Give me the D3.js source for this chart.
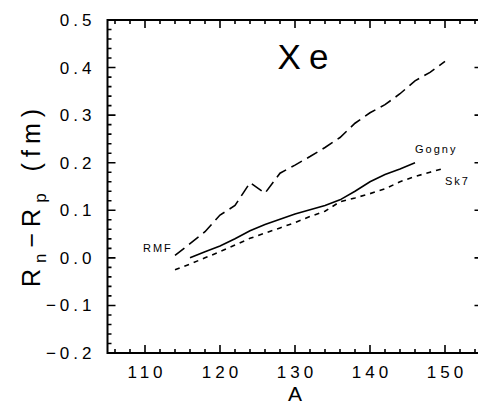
<!DOCTYPE html>
<html><head><meta charset="utf-8">
<script src="https://cdn.jsdelivr.net/npm/d3@7"></script>
<style>body{margin:0;background:#fff}svg{display:block}</style>
</head><body>
<svg id="c" width="478" height="405"></svg>
<script>
const rmfA = [114,116,118,120,122,124,126,128,130,132,134,136,138,140,142,144,146,148,150];
const rmfV = [0.005,0.030,0.055,0.090,0.110,0.158,0.136,0.178,0.195,0.213,0.232,0.253,0.283,0.305,0.322,0.345,0.372,0.390,0.413];
const gognyA = [116,118,120,122,124,126,128,130,132,134,136,138,140,142,144,146];
const gognyV = [0.000,0.013,0.025,0.040,0.057,0.070,0.081,0.092,0.101,0.110,0.122,0.140,0.160,0.175,0.187,0.200];
const sk7A = [114,116,118,120,122,124,126,128,130,132,134,136,138,140,142,144,146,148,150];
const sk7V = [-0.025,-0.013,0.000,0.013,0.027,0.041,0.052,0.063,0.074,0.087,0.098,0.118,0.126,0.135,0.145,0.160,0.171,0.180,0.189];
const xTicks = [110,120,130,140,150];
const yTicks = [-0.2,-0.1,0.0,0.1,0.2,0.3,0.4,0.5];

const svg = d3.select("#c");
const L = 107.5, R = 482.5, T = 20, B = 353;
const x = d3.scaleLinear().domain([105,155]).range([L,R]);
const y = d3.scaleLinear().domain([-0.2,0.5]).range([B,T]);
const font = "'Liberation Sans', Arial, sans-serif";

const minorX = d3.range(106,155,2);
const minorY = d3.range(0,36).map(i=>+(-0.2+i*0.02).toFixed(2));
const isMajX = v => Math.abs(v%10)<1e-6;
const isMajY = v => Math.abs(Math.round(v*10)-v*10)<1e-6;

// frame
svg.append("path").attr("d",`M${L},${T}H${R}V${B}H${L}Z`)
  .attr("fill","none").attr("stroke","#000").attr("stroke-width",2);

// ticks (inward on all four sides)
const tp = d3.path();
minorX.forEach(v=>{
  const len = isMajX(v)?8:4;
  tp.moveTo(x(v),B); tp.lineTo(x(v),B-len);
  tp.moveTo(x(v),T); tp.lineTo(x(v),T+len);
});
minorY.forEach(v=>{
  const len = isMajY(v)?8:4;
  tp.moveTo(L,y(v)); tp.lineTo(L+len,y(v));
  tp.moveTo(R,y(v)); tp.lineTo(R-len,y(v));
});
svg.append("path").attr("d",tp.toString()).attr("fill","none").attr("stroke","#000").attr("stroke-width",1.6);

// tick labels
svg.append("g").selectAll("text").data(xTicks).join("text")
  .attr("x",d=>x(d)+2).attr("y",B+25).attr("text-anchor","middle")
  .attr("font-family",font).attr("font-size",17).attr("letter-spacing",4)
  .text(d=>d);
svg.append("g").selectAll("text").data(yTicks).join("text")
  .attr("x",L-12).attr("y",d=>y(d)+6).attr("text-anchor","end")
  .attr("font-family",font).attr("font-size",17).attr("letter-spacing",4)
  .text(d=>d.toFixed(1).replace("-","\u2212"));

// axis titles
svg.append("text").attr("x",x(130)).attr("y",401).attr("text-anchor","middle")
  .attr("font-family",font).attr("font-size",21).text("A");
const yt = svg.append("text").attr("transform","translate(40,195) rotate(-90)")
  .attr("text-anchor","middle").attr("font-family",font).attr("font-size",25).attr("letter-spacing",6);
yt.append("tspan").text("R");
yt.append("tspan").attr("font-size",17).attr("dy",6).text("n");
yt.append("tspan").attr("dy",-6).text("\u2212R");
yt.append("tspan").attr("font-size",17).attr("dy",6).text("p");
yt.append("tspan").attr("dy",-6).attr("dx",16).text("(fm)");

// title
svg.append("text").attr("x",307).attr("y",69).attr("text-anchor","middle")
  .attr("font-family",font).attr("font-size",35).attr("letter-spacing",8).text("Xe");

// curves
const line = d3.line().x(d=>x(d[0])).y(d=>y(d[1]));
svg.append("path").datum(rmfA.map((a,i)=>[a,rmfV[i]])).attr("d",line)
  .attr("fill","none").attr("stroke","#000").attr("stroke-width",1.6).attr("stroke-dasharray","12,6");
svg.append("path").datum(gognyA.map((a,i)=>[a,gognyV[i]])).attr("d",line)
  .attr("fill","none").attr("stroke","#000").attr("stroke-width",1.6);
svg.append("path").datum(sk7A.map((a,i)=>[a,sk7V[i]])).attr("d",line)
  .attr("fill","none").attr("stroke","#000").attr("stroke-width",1.6).attr("stroke-dasharray","5,5");

// labels
const lab = (t,xx,yy)=>svg.append("text").attr("x",xx).attr("y",yy).attr("font-family",font)
  .attr("font-size",11).attr("letter-spacing",2).text(t);
lab("RMF",143,252);
lab("Gogny",415,153);
lab("Sk7",445,185);
</script>
</body></html>
